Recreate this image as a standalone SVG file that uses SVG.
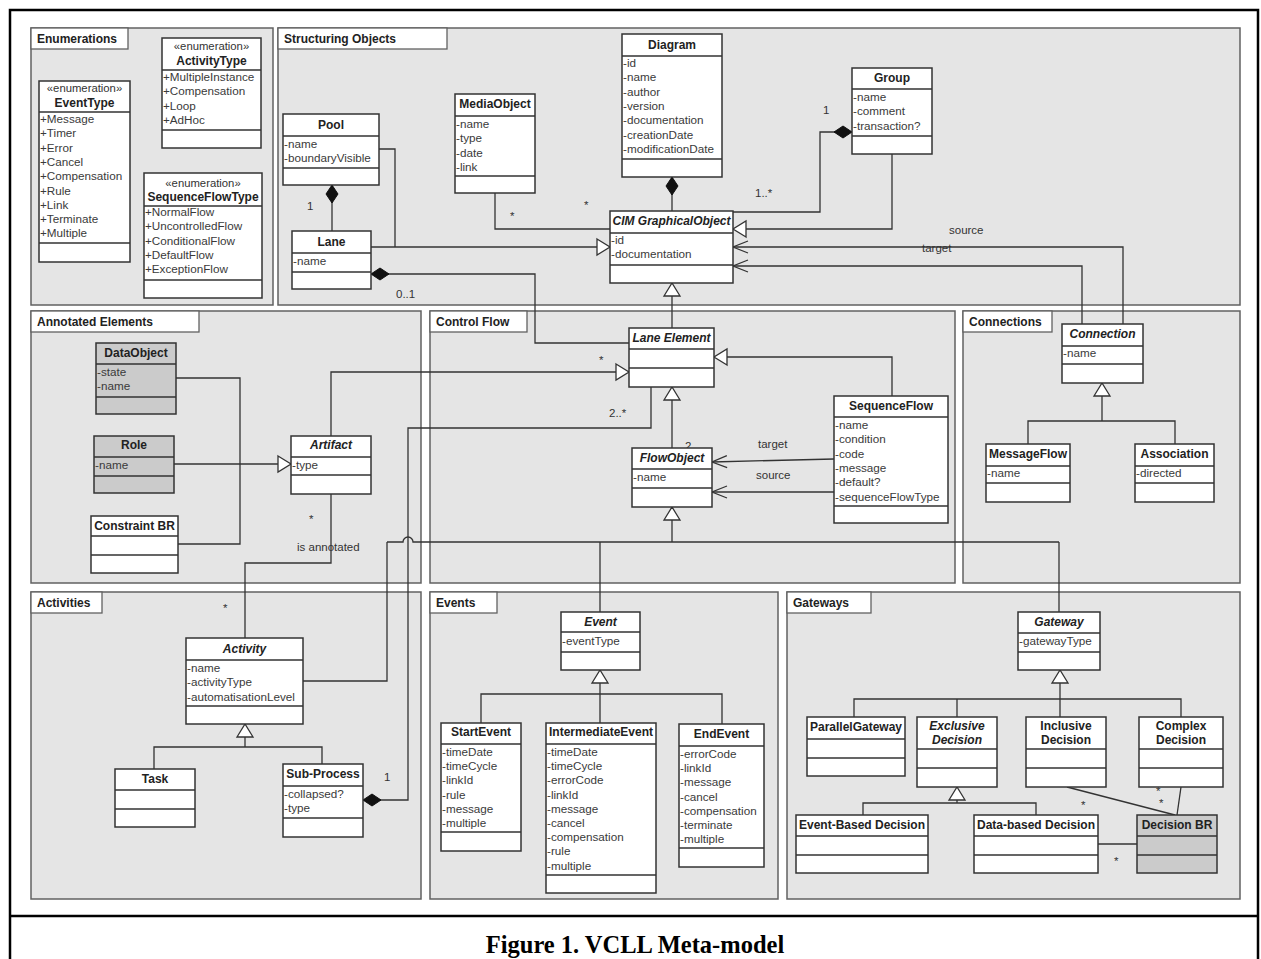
<svg xmlns="http://www.w3.org/2000/svg" width="1261" height="959" viewBox="0 0 1261 959">
<style>
.bg{fill:#fff}
.frame{fill:none;stroke:#000;stroke-width:2.5}
.panel{fill:#e5e5e5;stroke:#616161;stroke-width:1.5}
.tab{fill:#fff;stroke:#616161;stroke-width:1.3}
.tt{font-family:"Liberation Sans",Arial,sans-serif;font-size:12px;font-weight:bold;fill:#222}
.cls{fill:#fff;stroke:#333;stroke-width:1.5}
.gcls{fill:#cbcbcb;stroke:#333;stroke-width:1.5}
.sep{fill:none;stroke:#333;stroke-width:1.3}
.h{font-family:"Liberation Sans",Arial,sans-serif;font-size:12px;font-weight:bold;fill:#222;text-anchor:middle}
.hi{font-style:italic}
.st{font-family:"Liberation Sans",Arial,sans-serif;font-size:11.3px;fill:#333;text-anchor:middle}
.a{font-family:"Liberation Sans",Arial,sans-serif;font-size:11.7px;fill:#3a3a3a}
.c{fill:none;stroke:#333;stroke-width:1.3}
.lbl{font-family:"Liberation Sans",Arial,sans-serif;font-size:11.5px;fill:#333}
.cap{font-family:"Liberation Serif","Times New Roman",serif;font-size:24.5px;font-weight:bold;fill:#000;text-anchor:middle}
</style>
<defs>
<marker id="gen" markerUnits="userSpaceOnUse" markerWidth="16" markerHeight="18" refX="13" refY="8" orient="auto" overflow="visible"><path d="M0,0 L13,8 L0,16 z" fill="#fff" stroke="#333" stroke-width="1.3"/></marker>
<marker id="open" markerUnits="userSpaceOnUse" markerWidth="16" markerHeight="14" refX="15" refY="6" orient="auto" overflow="visible"><path d="M0,0 L15,6 L0,12" fill="none" stroke="#333" stroke-width="1.3"/></marker>
<marker id="dia" markerUnits="userSpaceOnUse" markerWidth="19" markerHeight="13" refX="18" refY="6" orient="auto" overflow="visible"><path d="M0,6 L9,0 L18,6 L9,12 z" fill="#111" stroke="#111" stroke-width="1"/></marker>
</defs>
<rect class="bg" x="0" y="0" width="1261" height="959"/>
<g id="frame">
<path class="frame" d="M10,959 V10 H1258 V959 M10,916 H1258"/>
<text class="cap" x="635" y="953">Figure 1. VCLL Meta-model</text>
</g>

<g id="panels">
<g id="p-enum"><rect class="panel" x="31" y="28" width="242" height="277"/><rect class="tab" x="31" y="28" width="97" height="21"/><text class="tt" x="37" y="43">Enumerations</text></g>
<g id="p-struct"><rect class="panel" x="278" y="28" width="962" height="277"/><rect class="tab" x="278" y="28" width="169" height="21"/><text class="tt" x="284" y="43">Structuring Objects</text></g>
<g id="p-annot"><rect class="panel" x="31" y="311" width="390" height="272"/><rect class="tab" x="31" y="311" width="168" height="21"/><text class="tt" x="37" y="326">Annotated Elements</text></g>
<g id="p-cflow"><rect class="panel" x="430" y="311" width="525" height="272"/><rect class="tab" x="430" y="311" width="97" height="21"/><text class="tt" x="436" y="326">Control Flow</text></g>
<g id="p-conn"><rect class="panel" x="963" y="311" width="277" height="272"/><rect class="tab" x="963" y="311" width="89" height="21"/><text class="tt" x="969" y="326">Connections</text></g>
<g id="p-act"><rect class="panel" x="31" y="592" width="390" height="307"/><rect class="tab" x="31" y="592" width="71" height="21"/><text class="tt" x="37" y="607">Activities</text></g>
<g id="p-events"><rect class="panel" x="430" y="592" width="348" height="307"/><rect class="tab" x="430" y="592" width="67" height="21"/><text class="tt" x="436" y="607">Events</text></g>
<g id="p-gw"><rect class="panel" x="787" y="592" width="453" height="307"/><rect class="tab" x="787" y="592" width="84" height="21"/><text class="tt" x="793" y="607">Gateways</text></g>
</g>

<g id="connectors">
<path class="c" d="M332,231 V185" marker-end="url(#dia)"/>
<path class="c" d="M379,149 H395 V247"/>
<path class="c" d="M371,247 H610" marker-end="url(#gen)"/>
<path class="c" d="M629,343 H535 V274 H371" marker-end="url(#dia)"/>
<path class="c" d="M495,193 V229 H610"/>
<path class="c" d="M672,211 V177" marker-end="url(#dia)"/>
<path class="c" d="M733,212 H820 V132 H852" marker-end="url(#dia)"/>
<path class="c" d="M892,154 V229 H733" marker-end="url(#gen)"/>
<path class="c" d="M1123,324 V247 H733" marker-end="url(#open)"/>
<path class="c" d="M1082,324 V266 H733" marker-end="url(#open)"/>
<path class="c" d="M672,328 V283" marker-end="url(#gen)"/>
<path class="c" d="M331,436 V372 H629" marker-end="url(#gen)"/>
<path class="c" d="M174,464 H291" marker-end="url(#gen)"/>
<path class="c" d="M176,378 H240 V544 H178"/>
<path class="c" d="M331,494 V563 H245 V638"/>
<path class="c" d="M892,396 V357 H714" marker-end="url(#gen)"/>
<path class="c" d="M672,448 V387" marker-end="url(#gen)"/>
<path class="c" d="M651,387 V428 H408 V800 H363" marker-end="url(#dia)"/>
<path class="c" d="M834,459 L712,462" marker-end="url(#open)"/>
<path class="c" d="M834,492 H712" marker-end="url(#open)"/>
<path class="c" d="M672,542 V507" marker-end="url(#gen)" stroke-width="2"/>
<path class="c" d="M387,542 H403 A5,5 0 0 1 413,542 H1059"/>
<path class="c" d="M387,542 V681 H303"/>
<path class="c" d="M600,542 V612"/>
<path class="c" d="M1059,542 V612"/>
<path class="c" d="M600,694 V670" marker-end="url(#gen)"/>
<path class="c" d="M481,723 V694 H722 V724 M600,694 V723"/>
<path class="c" d="M245,747 V724" marker-end="url(#gen)"/>
<path class="c" d="M154,769 V747 H322 V764"/>
<path class="c" d="M1102,421 V383" marker-end="url(#gen)"/>
<path class="c" d="M1028,444 V421 H1175 V444"/>
<path class="c" d="M1060,699 V670" marker-end="url(#gen)"/>
<path class="c" d="M854,717 V699 H1181 V717 M957,699 V717 M1060,699 V717"/>
<path class="c" d="M957,803 V787" marker-end="url(#gen)"/>
<path class="c" d="M863,815 V803 H1036 V815"/>
<path class="c" d="M1067,787 L1175,815"/>
<path class="c" d="M1181,787 L1177,815"/>
<path class="c" d="M1098,844 H1137"/>
<g id="labels">
<text class="lbl" x="307" y="210">1</text>
<text class="lbl" x="396" y="298">0..1</text>
<text class="lbl" x="510" y="220">*</text>
<text class="lbl" x="584" y="209">*</text>
<text class="lbl" x="823" y="114">1</text>
<text class="lbl" x="755" y="197">1..*</text>
<text class="lbl" x="949" y="234">source</text>
<text class="lbl" x="922" y="252">target</text>
<text class="lbl" x="599" y="364">*</text>
<text class="lbl" x="609" y="417">2..*</text>
<text class="lbl" x="685" y="450">2</text>
<text class="lbl" x="758" y="448">target</text>
<text class="lbl" x="756" y="479">source</text>
<text class="lbl" x="309" y="523">*</text>
<text class="lbl" x="297" y="551">is annotated</text>
<text class="lbl" x="223" y="612">*</text>
<text class="lbl" x="384" y="781">1</text>
<text class="lbl" x="1081" y="809">*</text>
<text class="lbl" x="1156" y="795">*</text>
<text class="lbl" x="1159" y="807">*</text>
<text class="lbl" x="1114" y="865">*</text>
</g>
</g>

<g id="EventType">
<rect class="cls" x="39" y="81" width="91" height="181"/>
<path class="sep" d="M39,112 H130 M39,243 H130"/>
<text class="st" x="84.5" y="92">«enumeration»</text>
<text class="h" x="84.5" y="107">EventType</text>
<text class="a" font-size="11.2"><tspan x="40" y="123">+Message</tspan><tspan x="40" y="137.3">+Timer</tspan><tspan x="40" y="151.6">+Error</tspan><tspan x="40" y="165.9">+Cancel</tspan><tspan x="40" y="180.2">+Compensation</tspan><tspan x="40" y="194.5">+Rule</tspan><tspan x="40" y="208.8">+Link</tspan><tspan x="40" y="223.1">+Terminate</tspan><tspan x="40" y="237.4">+Multiple</tspan></text>
</g>
<g id="ActivityType">
<rect class="cls" x="162" y="38" width="99" height="110"/>
<path class="sep" d="M162,70 H261 M162,130 H261"/>
<text class="st" x="211.5" y="50">«enumeration»</text>
<text class="h" x="211.5" y="65">ActivityType</text>
<text class="a"><tspan x="163" y="81">+MultipleInstance</tspan><tspan x="163" y="95.3">+Compensation</tspan><tspan x="163" y="109.6">+Loop</tspan><tspan x="163" y="123.9">+AdHoc</tspan></text>
</g>
<g id="SequenceFlowType">
<rect class="cls" x="144" y="173" width="118" height="125"/>
<path class="sep" d="M144,206 H262 M144,280 H262"/>
<text class="st" x="203" y="187">«enumeration»</text>
<text class="h" x="203" y="201">SequenceFlowType</text>
<text class="a"><tspan x="145" y="216">+NormalFlow</tspan><tspan x="145" y="230.3">+UncontrolledFlow</tspan><tspan x="145" y="244.6">+ConditionalFlow</tspan><tspan x="145" y="258.9">+DefaultFlow</tspan><tspan x="145" y="273.2">+ExceptionFlow</tspan></text>
</g>

<g id="Pool">
<rect class="cls" x="283" y="114" width="96" height="71"/>
<path class="sep" d="M283,136 H379 M283,168 H379"/>
<text class="h" x="331" y="129">Pool</text>
<text class="a"><tspan x="284" y="148">-name</tspan><tspan x="284" y="162.3">-boundaryVisible</tspan></text>
</g>
<g id="Lane">
<rect class="cls" x="292" y="231" width="79" height="58"/>
<path class="sep" d="M292,253 H371 M292,272 H371"/>
<text class="h" x="331.5" y="246">Lane</text>
<text class="a"><tspan x="293" y="265">-name</tspan></text>
</g>
<g id="MediaObject">
<rect class="cls" x="455" y="94" width="80" height="99"/>
<path class="sep" d="M455,116 H535 M455,176 H535"/>
<text class="h" x="495" y="108">MediaObject</text>
<text class="a"><tspan x="456" y="128">-name</tspan><tspan x="456" y="142.3">-type</tspan><tspan x="456" y="156.6">-date</tspan><tspan x="456" y="170.9">-link</tspan></text>
</g>
<g id="Diagram">
<rect class="cls" x="622" y="34" width="100" height="143"/>
<path class="sep" d="M622,56 H722 M622,159 H722"/>
<text class="h" x="672" y="49">Diagram</text>
<text class="a"><tspan x="623" y="67">-id</tspan><tspan x="623" y="81.3">-name</tspan><tspan x="623" y="95.6">-author</tspan><tspan x="623" y="109.9">-version</tspan><tspan x="623" y="124.2">-documentation</tspan><tspan x="623" y="138.5">-creationDate</tspan><tspan x="623" y="152.8">-modificationDate</tspan></text>
</g>
<g id="CIMGraphicalObject">
<rect class="cls" x="610" y="211" width="123" height="72"/>
<path class="sep" d="M610,233 H733 M610,265 H733"/>
<text class="h hi" x="671.5" y="225">CIM GraphicalObject</text>
<text class="a"><tspan x="611" y="244">-id</tspan><tspan x="611" y="258.3">-documentation</tspan></text>
</g>
<g id="Group">
<rect class="cls" x="852" y="68" width="80" height="86"/>
<path class="sep" d="M852,89 H932 M852,136 H932"/>
<text class="h" x="892" y="82">Group</text>
<text class="a"><tspan x="853" y="101">-name</tspan><tspan x="853" y="115.3">-comment</tspan><tspan x="853" y="129.6">-transaction?</tspan></text>
</g>

<g id="DataObject">
<rect class="gcls" x="96" y="343" width="80" height="71"/>
<path class="sep" d="M96,364 H176 M96,397 H176"/>
<text class="h" x="136" y="357">DataObject</text>
<text class="a"><tspan x="97" y="376">-state</tspan><tspan x="97" y="390.3">-name</tspan></text>
</g>
<g id="Role">
<rect class="gcls" x="94" y="436" width="80" height="57"/>
<path class="sep" d="M94,457 H174 M94,476 H174"/>
<text class="h" x="134" y="449">Role</text>
<text class="a"><tspan x="95" y="469">-name</tspan></text>
</g>
<g id="ConstraintBR">
<rect class="cls" x="91" y="516" width="87" height="57"/>
<path class="sep" d="M91,536 H178 M91,555 H178"/>
<text class="h" x="134.5" y="530">Constraint BR</text>
</g>
<g id="Artifact">
<rect class="cls" x="291" y="436" width="80" height="58"/>
<path class="sep" d="M291,457 H371 M291,475 H371"/>
<text class="h hi" x="331" y="449">Artifact</text>
<text class="a"><tspan x="292" y="469">-type</tspan></text>
</g>

<g id="LaneElement">
<rect class="cls" x="629" y="328" width="85" height="59"/>
<path class="sep" d="M629,349 H714 M629,368 H714"/>
<text class="h hi" x="671.5" y="342">Lane Element</text>
</g>
<g id="FlowObject">
<rect class="cls" x="632" y="448" width="80" height="59"/>
<path class="sep" d="M632,469 H712 M632,488 H712"/>
<text class="h hi" x="672" y="462">FlowObject</text>
<text class="a"><tspan x="633" y="481">-name</tspan></text>
</g>
<g id="SequenceFlow">
<rect class="cls" x="834" y="396" width="114" height="127"/>
<path class="sep" d="M834,417 H948 M834,506 H948"/>
<text class="h" x="891" y="410">SequenceFlow</text>
<text class="a"><tspan x="835" y="429">-name</tspan><tspan x="835" y="443.3">-condition</tspan><tspan x="835" y="457.6">-code</tspan><tspan x="835" y="471.9">-message</tspan><tspan x="835" y="486.2">-default?</tspan><tspan x="835" y="500.5">-sequenceFlowType</tspan></text>
</g>

<g id="Connection">
<rect class="cls" x="1062" y="324" width="81" height="59"/>
<path class="sep" d="M1062,346 H1143 M1062,364 H1143"/>
<text class="h hi" x="1102.5" y="338">Connection</text>
<text class="a"><tspan x="1063" y="357">-name</tspan></text>
</g>
<g id="MessageFlow">
<rect class="cls" x="986" y="444" width="84" height="58"/>
<path class="sep" d="M986,466 H1070 M986,483 H1070"/>
<text class="h" x="1028" y="458">MessageFlow</text>
<text class="a"><tspan x="987" y="477">-name</tspan></text>
</g>
<g id="Association">
<rect class="cls" x="1135" y="444" width="79" height="58"/>
<path class="sep" d="M1135,466 H1214 M1135,483 H1214"/>
<text class="h" x="1174.5" y="458">Association</text>
<text class="a"><tspan x="1136" y="477">-directed</tspan></text>
</g>

<g id="Activity">
<rect class="cls" x="186" y="638" width="117" height="86"/>
<path class="sep" d="M186,660 H303 M186,706 H303"/>
<text class="h hi" x="244.5" y="653">Activity</text>
<text class="a"><tspan x="187" y="672">-name</tspan><tspan x="187" y="686.3">-activityType</tspan><tspan x="187" y="700.6">-automatisationLevel</tspan></text>
</g>
<g id="Task">
<rect class="cls" x="115" y="769" width="80" height="58"/>
<path class="sep" d="M115,790 H195 M115,809 H195"/>
<text class="h" x="155" y="783">Task</text>
</g>
<g id="SubProcess">
<rect class="cls" x="283" y="764" width="80" height="73"/>
<path class="sep" d="M283,786 H363 M283,818 H363"/>
<text class="h" x="323" y="778">Sub-Process</text>
<text class="a"><tspan x="284" y="798">-collapsed?</tspan><tspan x="284" y="812.3">-type</tspan></text>
</g>

<g id="Event">
<rect class="cls" x="561" y="612" width="79" height="58"/>
<path class="sep" d="M561,632 H640 M561,652 H640"/>
<text class="h hi" x="600.5" y="626">Event</text>
<text class="a"><tspan x="562" y="645">-eventType</tspan></text>
</g>
<g id="StartEvent">
<rect class="cls" x="441" y="723" width="80" height="128"/>
<path class="sep" d="M441,744 H521 M441,832 H521"/>
<text class="h" x="481" y="736">StartEvent</text>
<text class="a"><tspan x="442" y="756">-timeDate</tspan><tspan x="442" y="770.2">-timeCycle</tspan><tspan x="442" y="784.4">-linkId</tspan><tspan x="442" y="798.6">-rule</tspan><tspan x="442" y="812.8">-message</tspan><tspan x="442" y="827">-multiple</tspan></text>
</g>
<g id="IntermediateEvent">
<rect class="cls" x="546" y="723" width="110" height="170"/>
<path class="sep" d="M546,744 H656 M546,875 H656"/>
<text class="h" x="601" y="736">IntermediateEvent</text>
<text class="a"><tspan x="547" y="756">-timeDate</tspan><tspan x="547" y="770.2">-timeCycle</tspan><tspan x="547" y="784.4">-errorCode</tspan><tspan x="547" y="798.6">-linkId</tspan><tspan x="547" y="812.8">-message</tspan><tspan x="547" y="827">-cancel</tspan><tspan x="547" y="841.2">-compensation</tspan><tspan x="547" y="855.4">-rule</tspan><tspan x="547" y="869.6">-multiple</tspan></text>
</g>
<g id="EndEvent">
<rect class="cls" x="679" y="724" width="85" height="143"/>
<path class="sep" d="M679,746 H764 M679,848 H764"/>
<text class="h" x="721.5" y="738">EndEvent</text>
<text class="a"><tspan x="680" y="758">-errorCode</tspan><tspan x="680" y="772.2">-linkId</tspan><tspan x="680" y="786.4">-message</tspan><tspan x="680" y="800.6">-cancel</tspan><tspan x="680" y="814.8">-compensation</tspan><tspan x="680" y="829">-terminate</tspan><tspan x="680" y="843.2">-multiple</tspan></text>
</g>

<g id="Gateway">
<rect class="cls" x="1018" y="612" width="82" height="58"/>
<path class="sep" d="M1018,633 H1100 M1018,652 H1100"/>
<text class="h hi" x="1059" y="626">Gateway</text>
<text class="a"><tspan x="1019" y="645">-gatewayType</tspan></text>
</g>
<g id="ParallelGateway">
<rect class="cls" x="807" y="717" width="98" height="59"/>
<path class="sep" d="M807,739 H905 M807,758 H905"/>
<text class="h" x="856" y="731">ParallelGateway</text>
</g>
<g id="ExclusiveDecision">
<rect class="cls" x="917" y="717" width="80" height="70"/>
<path class="sep" d="M917,749 H997 M917,768 H997"/>
<text class="h hi" x="957" y="730">Exclusive</text>
<text class="h hi" x="957" y="744">Decision</text>
</g>
<g id="InclusiveDecision">
<rect class="cls" x="1026" y="717" width="80" height="70"/>
<path class="sep" d="M1026,749 H1106 M1026,768 H1106"/>
<text class="h" x="1066" y="730">Inclusive</text>
<text class="h" x="1066" y="744">Decision</text>
</g>
<g id="ComplexDecision">
<rect class="cls" x="1139" y="717" width="84" height="70"/>
<path class="sep" d="M1139,749 H1223 M1139,768 H1223"/>
<text class="h" x="1181" y="730">Complex</text>
<text class="h" x="1181" y="744">Decision</text>
</g>
<g id="EventBasedDecision">
<rect class="cls" x="796" y="815" width="132" height="58"/>
<path class="sep" d="M796,836 H928 M796,855 H928"/>
<text class="h" x="862" y="829">Event-Based Decision</text>
</g>
<g id="DataBasedDecision">
<rect class="cls" x="974" y="815" width="124" height="58"/>
<path class="sep" d="M974,836 H1098 M974,855 H1098"/>
<text class="h" x="1036" y="829">Data-based Decision</text>
</g>
<g id="DecisionBR">
<rect class="gcls" x="1137" y="815" width="80" height="58"/>
<path class="sep" d="M1137,836 H1217 M1137,855 H1217"/>
<text class="h" x="1177" y="829">Decision BR</text>
</g>
</svg>
